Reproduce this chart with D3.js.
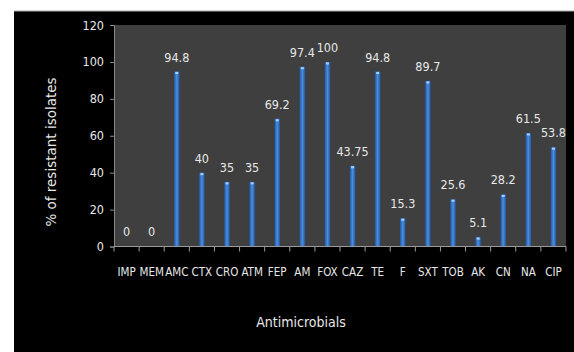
<!DOCTYPE html>
<html><head><meta charset="utf-8">
<script src="https://cdn.jsdelivr.net/npm/d3@7"></script>
<style>html,body{margin:0;padding:0;background:#fff;}svg{display:block;}</style>
</head><body><div id="chart"></div>
<script>
const categories = ["IMP","MEM","AMC","CTX","CRO","ATM","FEP","AM","FOX","CAZ","TE","F","SXT","TOB","AK","CN","NA","CIP"];
const values = [0,0,94.8,40,35,35,69.2,97.4,100,43.75,94.8,15.3,89.7,25.6,5.1,28.2,61.5,53.8];
const labels = ["0","0","94.8","40","35","35","69.2","97.4","100","43.75","94.8","15.3","89.7","25.6","5.1","28.2","61.5","53.8"];
const yTicks = [0,20,40,60,80,100,120];

const data = categories.map((c, i) => ({c, v: values[i], l: labels[i]}));

const W = 574, H = 352;
const svg = d3.select("#chart").append("svg").attr("width", W).attr("height", H);
const font = "'DejaVu Sans Condensed','Liberation Sans Narrow',sans-serif";

svg.append("rect").attr("x", 14).attr("y", 11).attr("width", W - 14).attr("height", H - 11).attr("fill", "#000");
svg.append("line").attr("x1", 14).attr("x2", W).attr("y1", 11).attr("y2", 11).attr("stroke", "#aaa");

const plot = {l: 114, t: 25, r: 566, b: 246.5};
svg.append("rect").attr("x", plot.l).attr("y", plot.t).attr("width", plot.r - plot.l).attr("height", plot.b - plot.t).attr("fill", "#3f3f3f");

const x = d3.scaleBand().domain(categories).range([plot.l, plot.r]);
const y = d3.scaleLinear().domain([0, 120]).range([plot.b, plot.t]);

const defs = svg.append("defs");
const g = defs.append("linearGradient").attr("id", "bg").attr("x1", "0").attr("x2", "1").attr("y1", "0").attr("y2", "0");
g.append("stop").attr("offset", "0").attr("stop-color", "#2256a0");
g.append("stop").attr("offset", "0.5").attr("stop-color", "#4a8ee0");
g.append("stop").attr("offset", "1").attr("stop-color", "#2256a0");

const cx = d => x(d.c) + x.bandwidth() / 2;
const bw = 5.5;
svg.append("g").selectAll("rect").data(data).join("rect")
  .attr("x", d => cx(d) - bw / 2)
  .attr("y", d => y(d.v))
  .attr("width", bw)
  .attr("height", d => y(0) - y(d.v))
  .attr("fill", "url(#bg)");
svg.append("g").selectAll("rect").data(data.filter(d => d.v > 0)).join("rect")
  .attr("x", d => cx(d) - 1.5)
  .attr("y", d => y(d.v) + 0.5)
  .attr("width", 3).attr("height", 2)
  .attr("fill", "#a8d0ff");

svg.append("g").selectAll("text").data(data).join("text")
  .attr("x", d => cx(d))
  .attr("y", d => y(d.v) - (d.v > 0 ? 10 : 11))
  .attr("text-anchor", "middle")
  .attr("fill", "#e8e8e8")
  .attr("font-family", font)
  .attr("font-size", 12.5)
  .text(d => d.l);

// y axis
const yAxis = svg.append("g").attr("transform", `translate(${plot.l},0)`)
  .call(d3.axisLeft(y).tickValues(yTicks).tickSize(4).tickPadding(6));
yAxis.select(".domain").attr("stroke", "#888");
yAxis.selectAll("line").attr("stroke", "#888");
yAxis.selectAll("text").attr("fill", "#e8e8e8").attr("font-family", font).attr("font-size", 12.5);

// x axis
const xAxis = svg.append("g").attr("transform", `translate(0,${plot.b})`)
  .call(d3.axisBottom(x).tickSize(0).tickPadding(21));
xAxis.select(".domain").attr("stroke", "#999").attr("d", `M${plot.l},0H${plot.r}`);
xAxis.selectAll("text").attr("fill", "#e8e8e8").attr("font-family", font).attr("font-size", 11.5);
const bounds = categories.map(c => x(c)).concat([plot.r]);
xAxis.selectAll("line.sep").data(bounds).join("line").attr("class", "sep")
  .attr("x1", d => d).attr("x2", d => d).attr("y1", 0).attr("y2", 5).attr("stroke", "#999");

svg.append("text").attr("x", 301).attr("y", 327).attr("text-anchor", "middle")
  .attr("fill", "#e8e8e8").attr("font-family", font).attr("font-size", 14).text("Antimicrobials");
svg.append("text").attr("transform", "translate(56,152) rotate(-90)").attr("text-anchor", "middle")
  .attr("fill", "#e8e8e8").attr("font-family", "'DejaVu Sans',sans-serif").attr("font-size", 13.5).text("% of resistant isolates");
</script></body></html>
